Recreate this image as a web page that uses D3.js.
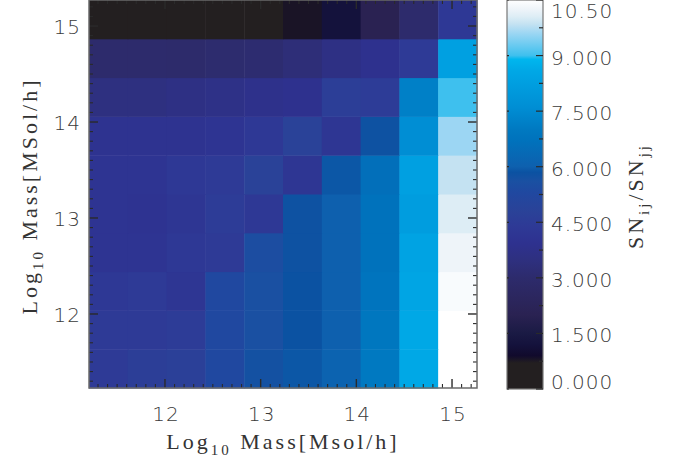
<!DOCTYPE html>
<html>
<head>
<meta charset="utf-8">
<script src="https://cdn.jsdelivr.net/npm/d3@7"></script>
<style>
  body { margin: 0; background: #fff; }
  .tick-label { font-family: "DejaVu Sans", "Liberation Sans", sans-serif; font-weight: 200; font-size: 20px; fill: #3a3a3a; letter-spacing: 1px; }
  .title { font-family: "Liberation Serif", "Times New Roman", serif; font-size: 22px; fill: #333; letter-spacing: 3px; }
</style>
</head>
<body>
<div class="chart"></div>
<script>
// bin centres, log10 mass
const xBins = ["11.41", "11.81", "12.22", "12.62", "13.03", "13.44", "13.84", "14.25", "14.65", "15.06"];
const yBins = ["11.43", "11.84", "12.24", "12.65", "13.05", "13.45", "13.86", "14.26", "14.67", "15.07"];

// SN_ij / SN_jj, rows listed from lowest y bin to highest
const ratio = [
  [4.4, 4.6, 4.7, 5.3, 5.7, 5.9, 6.1, 7.0, 8.6, 10.5],
  [4.4, 4.4, 4.5, 5.3, 5.6, 5.85, 6.0, 6.9, 8.6, 10.5],
  [4.3, 4.4, 4.2, 5.3, 5.6, 5.85, 6.0, 6.8, 8.5, 10.4],
  [4.1, 4.1, 4.3, 4.4, 5.5, 5.8, 6.0, 6.7, 8.4, 10.25],
  [4.1, 4.05, 4.2, 4.5, 4.3, 5.8, 6.0, 6.7, 8.2, 10.05],
  [4.1, 4.1, 4.3, 4.4, 4.8, 4.2, 5.9, 6.6, 8.3, 9.85],
  [4.0, 4.0, 4.0, 4.1, 4.3, 4.8, 4.2, 5.8, 7.6, 9.6],
  [3.5, 3.5, 3.6, 3.7, 3.8, 3.9, 4.6, 4.5, 7.2, 9.0],
  [3.0, 3.0, 2.95, 3.05, 3.1, 3.3, 3.6, 3.9, 4.4, 8.3],
  [0.0, 0.0, 0.0, 0.0, 0.0, 0.8, 1.2, 2.0, 3.0, 4.3]
];

const axisTicks = [12, 13, 14, 15];
const barTicks = [0, 1.5, 3, 4.5, 6, 7.5, 9, 10.5];
const barLabels = ["0.000", "1.500", "3.000", "4.500", "6.000", "7.500", "9.000", "10.50"];

// colour table
const cmapStops = [0, 0.7, 0.9, 1.2, 1.5, 2.0, 3.0, 3.5, 3.9, 4.1, 4.4, 4.8, 5.3, 5.6, 5.85, 6.0, 6.7, 7.0, 7.6, 8.3, 8.6, 8.9, 9.0, 9.6, 9.85, 10.05, 10.25, 10.5];
const cmapColors = ["#231f20", "#231f20", "#110a2c", "#14123c", "#1a1a44", "#2a2252", "#2d2b6c", "#2e3080", "#2e318e", "#2e3492",
  "#2e3a96", "#2a4298", "#2048a0", "#1a50a2", "#0b52a2", "#0e60ae", "#0072bc", "#0079c1", "#008ed4", "#00a0e1",
  "#00a8e6", "#00b6ee", "#3ec0ee", "#9cd6f3", "#c4e2f2", "#ddedf5", "#eef4f9", "#ffffff"];

let outerWidth = 675, outerHeight = 464;
let margin = {top: 0, left: 89};
let width = 388, height = 388;

let svg = d3.select(".chart").append("svg")
  .attr("width", outerWidth)
  .attr("height", outerHeight);

let color = d3.scaleLinear().domain(cmapStops).range(cmapColors).clamp(true);

const xBand = d3.scaleBand().domain(xBins).range([0, width]);
const yBand = d3.scaleBand().domain(yBins).range([height, 0]);
const xScale = d3.scaleLinear().domain([11.206, 15.261]).range([0, width]);
const yScale = d3.scaleLinear().domain([11.229, 15.271]).range([height, 0]);

let g = svg.append("g").attr("transform", `translate(${margin.left},${margin.top})`);

// cells
ratio.forEach((row, i) => {
  g.selectAll(null)
    .data(row)
    .enter()
    .append("rect")
    .attr("x", (d, j) => xBand(xBins[j]))
    .attr("y", yBand(yBins[i]))
    .attr("width", xBand.bandwidth() + 0.5)
    .attr("height", yBand.bandwidth() + 0.5)
    .attr("fill", d => color(d));
});

// ticks on all four sides, IDL style
let minorX = d3.range(112, 153).map(v => v / 10);
function drawTicks(scale, side) {
  let ticks = g.append("g");
  minorX.forEach(v => {
    let p = scale(v);
    if (p < 0 || p > width) return;
    let major = Math.abs(v - Math.round(v)) < 1e-6;
    let len = major ? 9 : 4;
    let line = ticks.append("line").attr("stroke", "#2a2a2a").attr("stroke-width", major ? 1.4 : 1.1);
    if (side === "bottom") line.attr("x1", p).attr("x2", p).attr("y1", height).attr("y2", height - len);
    if (side === "top") line.attr("x1", p).attr("x2", p).attr("y1", 0).attr("y2", len);
    if (side === "left") line.attr("y1", p).attr("y2", p).attr("x1", 0).attr("x2", len);
    if (side === "right") line.attr("y1", p).attr("y2", p).attr("x1", width).attr("x2", width - len);
  });
}
drawTicks(xScale, "bottom");
drawTicks(xScale, "top");
drawTicks(yScale, "left");
drawTicks(yScale, "right");

g.append("rect")
  .attr("x", 0).attr("y", 0)
  .attr("width", width).attr("height", height)
  .attr("fill", "none")
  .attr("stroke", "#6a6a6a")
  .attr("stroke-width", 1.5);

// tick labels
g.selectAll(".xl")
  .data(axisTicks)
  .enter()
  .append("text")
  .attr("class", "tick-label")
  .attr("x", d => xScale(d) + 1)
  .attr("y", 414)
  .attr("text-anchor", "middle")
  .attr("dominant-baseline", "central")
  .text(d => d);

g.selectAll(".yl")
  .data(axisTicks)
  .enter()
  .append("text")
  .attr("class", "tick-label")
  .attr("x", -8)
  .attr("y", d => yScale(d) + 1)
  .attr("text-anchor", "end")
  .attr("dominant-baseline", "central")
  .text(d => d);

// axis titles
let xt = svg.append("text")
  .attr("class", "title")
  .attr("x", 283)
  .attr("y", 449)
  .attr("text-anchor", "middle");
xt.append("tspan").text("Log");
xt.append("tspan").attr("dy", 6).attr("font-size", 15).text("10");
xt.append("tspan").attr("dy", -6).text(" Mass[Msol/h]");

let yt = svg.append("text")
  .attr("class", "title")
  .attr("transform", "translate(37,196) rotate(-90)")
  .attr("text-anchor", "middle");
yt.append("tspan").text("Log");
yt.append("tspan").attr("dy", 6).attr("font-size", 15).text("10");
yt.append("tspan").attr("dy", -6).text(" Mass[MSol/h]");

// colour bar
let barX = 507, barW = 36, barTop = 0, barH = 389;
const barScale = d3.scaleLinear().domain([0, 10.5]).range([barTop + barH, barTop]);

let grad = svg.append("defs").append("linearGradient")
  .attr("id", "cbar")
  .attr("x1", 0).attr("y1", 1).attr("x2", 0).attr("y2", 0);
grad.selectAll("stop")
  .data(cmapStops)
  .enter()
  .append("stop")
  .attr("offset", d => d / 10.5)
  .attr("stop-color", d => color(d));

svg.append("rect")
  .attr("x", barX).attr("y", barTop)
  .attr("width", barW).attr("height", barH)
  .attr("fill", "url(#cbar)")
  .attr("stroke", "#777")
  .attr("stroke-width", 1.2);

let cbTicks = svg.append("g");
d3.range(0, 15).map(k => k * 0.75).forEach(v => {
  let major = Math.abs(v / 1.5 - Math.round(v / 1.5)) < 1e-6;
  let y = barScale(v);
  cbTicks.append("line")
    .attr("x1", barX + barW).attr("x2", barX + barW - (major ? 7 : 4))
    .attr("y1", y).attr("y2", y)
    .attr("stroke", "#2a2a2a").attr("stroke-width", 1.2);
  if (major) {
    cbTicks.append("line")
      .attr("x1", barX).attr("x2", barX + 2)
      .attr("y1", y).attr("y2", y)
      .attr("stroke", "#2a2a2a").attr("stroke-width", 1.2);
  }
});

svg.selectAll(".cbl")
  .data(barTicks)
  .enter()
  .append("text")
  .attr("class", "tick-label")
  .attr("x", 551)
  .attr("y", d => Math.max(11, Math.min(382, barScale(d) + 2)))
  .attr("dominant-baseline", "central")
  .text((d, i) => barLabels[i]);

let ct = svg.append("text")
  .attr("class", "title")
  .attr("transform", "translate(643,196) rotate(-90)")
  .attr("text-anchor", "middle");
ct.append("tspan").text("SN");
ct.append("tspan").attr("dy", 6).attr("font-size", 15).text("ij");
ct.append("tspan").attr("dy", -6).text("/SN");
ct.append("tspan").attr("dy", 6).attr("font-size", 15).text("jj");
</script>
</body>
</html>
